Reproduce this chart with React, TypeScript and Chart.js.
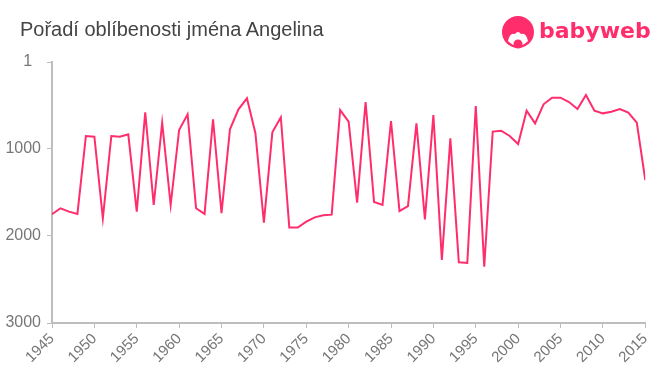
import React, { useEffect, useRef } from "react";
import { Chart, registerables } from "chart.js";

Chart.register(...registerables);

const years: number[] = [
  1945, 1946, 1947, 1948, 1949, 1950, 1951, 1952, 1953, 1954,
  1955, 1956, 1957, 1958, 1959, 1960, 1961, 1962, 1963, 1964,
  1965, 1966, 1967, 1968, 1969, 1970, 1971, 1972, 1973, 1974,
  1975, 1976, 1977, 1978, 1979, 1980, 1981, 1982, 1983, 1984,
  1985, 1986, 1987, 1988, 1989, 1990, 1991, 1992, 1993, 1994,
  1995, 1996, 1997, 1998, 1999, 2000, 2001, 2002, 2003, 2004,
  2005, 2006, 2007, 2008, 2009, 2010, 2011, 2012, 2013, 2014,
  2015,
];

const ranks: number[] = [
  1751, 1682, 1720, 1747, 851, 859, 1797, 851, 859, 832,
  1721, 580, 1644, 698, 1644, 782, 602, 1682, 1747, 659,
  1739, 774, 545, 418, 820, 1847, 809, 637, 1904, 1904,
  1836, 1786, 1763, 1755, 553, 687, 1617, 461, 1610, 1644,
  679, 1713, 1656, 706, 1809, 610, 2276, 878, 2303, 2311,
  507, 2353, 801, 790, 851, 943, 560, 706, 487, 411,
  411, 461, 541, 380, 560, 591, 572, 541, 583, 698,
  1357,
];

const yTickValues: number[] = [1, 1000, 2000, 3000];
const yTickLabels: string[] = ["1  ", "1000", "2000", "3000"];
const xTickStep = 5;

const titleText = "Pořadí oblíbenosti jména Angelina";
const logoText = "babyweb";

const PINK = "#ff2d6b";
const AXIS = "#bdbdbd";
const TICKTXT = "#777777";

export default function App() {
  const ref = useRef<HTMLCanvasElement | null>(null);

  useEffect(() => {
    if (!ref.current) return;
    const chart = new Chart(ref.current, {
      type: "line",
      data: {
        datasets: [
          {
            data: years.map((y, i) => ({ x: y, y: ranks[i] })),
            borderColor: PINK,
            borderWidth: 2,
            pointRadius: 0,
            tension: 0,
            fill: false,
          },
        ],
      },
      options: {
        animation: false,
        responsive: false,
        devicePixelRatio: 1,
        layout: { padding: { top: 62, right: 13, left: 0, bottom: 0 } },
        plugins: {
          legend: { display: false },
          tooltip: { enabled: false },
          title: { display: false },
        },
        scales: {
          x: {
            type: "linear",
            min: years[0],
            max: years[years.length - 1],
            ticks: {
              stepSize: xTickStep,
              minRotation: 45,
              maxRotation: 45,
              color: TICKTXT,
              font: { family: "Arial, 'Liberation Sans'", size: 15 },
              padding: 2,
              callback: (v: any) => String(v),
            },
            grid: {
              drawOnChartArea: false,
              drawTicks: true,
              tickLength: 5,
              color: AXIS,
            },
            border: { color: AXIS, width: 2 },
            afterFit: (s: any) => {
              s.height = 52;
            },
          },
          y: {
            type: "linear",
            reverse: true,
            min: 1,
            max: 3000,
            afterBuildTicks: (s: any) => {
              s.ticks = yTickValues.map((v) => ({ value: v }));
            },
            ticks: {
              color: TICKTXT,
              font: { family: "Arial, 'Liberation Sans'", size: 16 },
              padding: 6,
              callback: (v: any) => {
                const i = yTickValues.indexOf(Number(v));
                return i >= 0 ? yTickLabels[i] : String(v);
              },
            },
            grid: {
              drawOnChartArea: false,
              drawTicks: true,
              tickLength: 5,
              color: AXIS,
            },
            border: { color: AXIS, width: 2 },
            afterFit: (s: any) => {
              s.width = 52;
            },
          },
        },
      },
    });
    return () => chart.destroy();
  }, []);

  return (
    <div
      style={{
        position: "absolute",
        left: 0,
        top: 0,
        width: 660,
        height: 375,
        background: "#fff",
        overflow: "hidden",
      }}
    >
      <canvas ref={ref} width={660} height={375} style={{ position: "absolute", left: 0, top: 0 }} />
      <div
        style={{
          position: "absolute",
          left: 20,
          top: 17,
          fontFamily: "Arial, 'Liberation Sans', sans-serif",
          fontSize: 20,
          color: "#444",
          lineHeight: "24px",
          whiteSpace: "nowrap",
        }}
      >
        {titleText}
      </div>
      <svg
        width={36}
        height={36}
        viewBox="0 0 36 36"
        style={{ position: "absolute", left: 500, top: 15 }}
      >
        <circle cx={18} cy={17} r={16} fill={PINK} />
        <path d="M8 26 Q10 17 15 19 Q18 15 21 19 Q26 17 28 26 Q18 36 8 26 Z" fill="#fff" />
        <circle cx={18} cy={29} r={4.5} fill={PINK} />
      </svg>
      <div
        style={{
          position: "absolute",
          left: 539,
          top: 17,
          fontFamily: "'DejaVu Sans', Arial, sans-serif",
          fontWeight: "bold",
          fontSize: 22,
          color: PINK,
          lineHeight: "28px",
          whiteSpace: "nowrap",
        }}
      >
        {logoText}
      </div>
    </div>
  );
}
